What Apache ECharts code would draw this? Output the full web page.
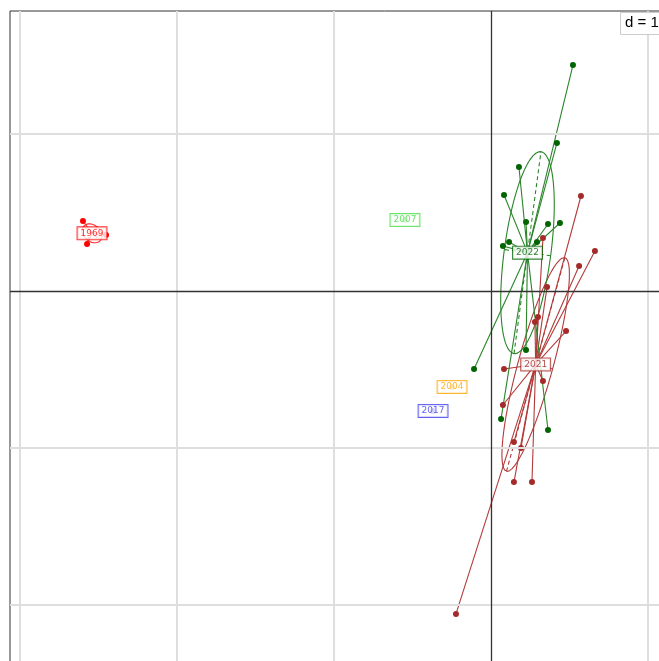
<!DOCTYPE html>
<html><head><meta charset="utf-8">
<script src="https://cdn.jsdelivr.net/npm/echarts@6/dist/echarts.min.js"></script>
<style>html,body{margin:0;padding:0;background:#fff;overflow:hidden;width:659px;height:661px}#c{width:800px;height:800px}</style>
</head><body><div id="c"></div>
<script>
// class names & colours
const classes = ['1969','2007','2004','2017','2021','2022'];
const colors = ['#FF0000','#44DD44','#FFA500','#3B3BF0','#A52A2A','#006400'];
const lineColors = ['#FF3030','#44DD44','#FFA500','#3B3BF0','#B23A3A','#2A852A'];
// points per class (x, y)
const pts1969 = [[-2.599,0.446],[-2.573,0.299],[-2.452,0.357]];
const pts2007 = [[-0.548,0.452]];
const pts2004 = [[-0.248,-0.611]];
const pts2017 = [[-0.369,-0.764]];
const pts2021 = [[0.573,0.605],[0.662,0.255],[0.561,0.159],[0.331,0.338],[0.357,0.025],[0.299,-0.166],[0.280,-0.197],[0.478,-0.255],[0.083,-0.497],[0.331,-0.573],[0.076,-0.726],[0.146,-0.962],[0.191,-1.000],[0.146,-1.217],[0.261,-1.217],[-0.223,-2.057]];
const pts2022 = [[0.522,1.439],[0.420,0.943],[0.178,0.790],[0.083,0.611],[0.223,0.439],[0.363,0.427],[0.439,0.433],[0.076,0.287],[0.115,0.312],[0.293,0.312],[-0.108,-0.497],[0.064,-0.815],[0.363,-0.885],[0.223,-0.376]];
const gridX = [-3,-2,-1,1];
const gridY = [1,-1,-2];
const allPts = [pts1969,pts2007,pts2004,pts2017,pts2021,pts2022];

const series = [];
// background grid
series.push({type:'line',data:[],silent:true,z:0,
  markLine:{silent:true,symbol:'none',label:{show:false},animation:false,
    lineStyle:{color:'#dedede',width:2,type:'solid'},
    data:gridX.map(v=>({xAxis:v})).concat(gridY.map(v=>({yAxis:v})))}});
series.push({type:'line',data:[],silent:true,z:1,
  markLine:{silent:true,symbol:'none',label:{show:false},animation:false,
    lineStyle:{color:'#333',width:1.3,type:'solid'},
    data:[{xAxis:0},{yAxis:0}]}});

function stats(p){
  const n=p.length;let mx=0,my=0;p.forEach(q=>{mx+=q[0];my+=q[1];});mx/=n;my/=n;
  let vx=0,vy=0,cxy=0;p.forEach(q=>{vx+=(q[0]-mx)**2;vy+=(q[1]-my)**2;cxy+=(q[0]-mx)*(q[1]-my);});
  vx/=n;vy/=n;cxy/=n;
  const tr=vx+vy,det=vx*vy-cxy*cxy,d=Math.sqrt(Math.max(tr*tr/4-det,0));
  const l1=tr/2+d,l2=Math.max(tr/2-d,0);
  let v1=[l1-vy,cxy];if(Math.abs(cxy)<1e-12){v1=vx>=vy?[1,0]:[0,1];}
  const nn=Math.hypot(v1[0],v1[1]);v1=[v1[0]/nn,v1[1]/nn];
  const v2=[-v1[1],v1[0]];
  return {mx,my,a:Math.sqrt(l1),b:Math.sqrt(l2),v1,v2};
}

allPts.forEach((p,i)=>{
  const s=stats(p);
  if(p.length>2){
    const ell=[];
    for(let k=0;k<=120;k++){const t=k/120*2*Math.PI;
      ell.push([s.mx+Math.cos(t)*s.a*s.v1[0]+Math.sin(t)*s.b*s.v2[0], s.my+Math.cos(t)*s.a*s.v1[1]+Math.sin(t)*s.b*s.v2[1]]);}
    series.push({type:'line',data:ell,showSymbol:false,silent:true,z:2,animation:false,
      lineStyle:{color:lineColors[i],width:1.1}});
    series.push({type:'lines',coordinateSystem:'cartesian2d',silent:true,z:2,animation:false,
      lineStyle:{color:lineColors[i],width:1.1,type:[4,3],opacity:1},
      data:[{coords:[[s.mx-s.a*s.v1[0],s.my-s.a*s.v1[1]],[s.mx+s.a*s.v1[0],s.my+s.a*s.v1[1]]]},
            {coords:[[s.mx-s.b*s.v2[0],s.my-s.b*s.v2[1]],[s.mx+s.b*s.v2[0],s.my+s.b*s.v2[1]]]}]});
  }
  series.push({type:'lines',coordinateSystem:'cartesian2d',silent:true,z:3,animation:false,
    lineStyle:{color:lineColors[i],width:1.1,opacity:1},
    data:p.map(q=>({coords:[[s.mx,s.my],q]}))});
  series.push({type:'scatter',data:p,symbolSize:6,silent:true,z:4,animation:false,
    itemStyle:{color:colors[i],opacity:1}});
  series.push({type:'scatter',data:[[s.mx,s.my]],symbolSize:1,silent:true,z:5,animation:false,
    itemStyle:{color:'rgba(0,0,0,0)'},
    label:{show:true,position:'inside',formatter:classes[i],color:colors[i],fontSize:9,
      fontFamily:'DejaVu Sans, sans-serif',backgroundColor:'#fff',borderColor:colors[i],
      borderWidth:1,padding:[2,3,1,3]}});
});

const W=749,H=750,S=157;
const xmin=-481/S, ymax=280/S;
const chart=echarts.init(document.getElementById('c'),null,{renderer:'canvas'});
chart.setOption({
  animation:false,
  grid:{left:10,top:11,width:W,height:H,show:true,borderColor:'#333',borderWidth:1,backgroundColor:'transparent'},
  xAxis:{type:'value',min:xmin,max:xmin+W/S,axisLine:{show:false},axisTick:{show:false},axisLabel:{show:false},splitLine:{show:false}},
  yAxis:{type:'value',min:ymax-H/S,max:ymax,axisLine:{show:false},axisTick:{show:false},axisLabel:{show:false},splitLine:{show:false}},
  graphic:[{type:'rect',left:620,top:12,z:100,shape:{width:60,height:22},style:{fill:'#fff',stroke:'#cccccc',lineWidth:1}},
           {type:'text',left:625,top:15,z:101,style:{text:'d = 1',fill:'#000',font:'15px "Liberation Sans", Arial, sans-serif'}}],
  series:series
});
</script></body></html>
